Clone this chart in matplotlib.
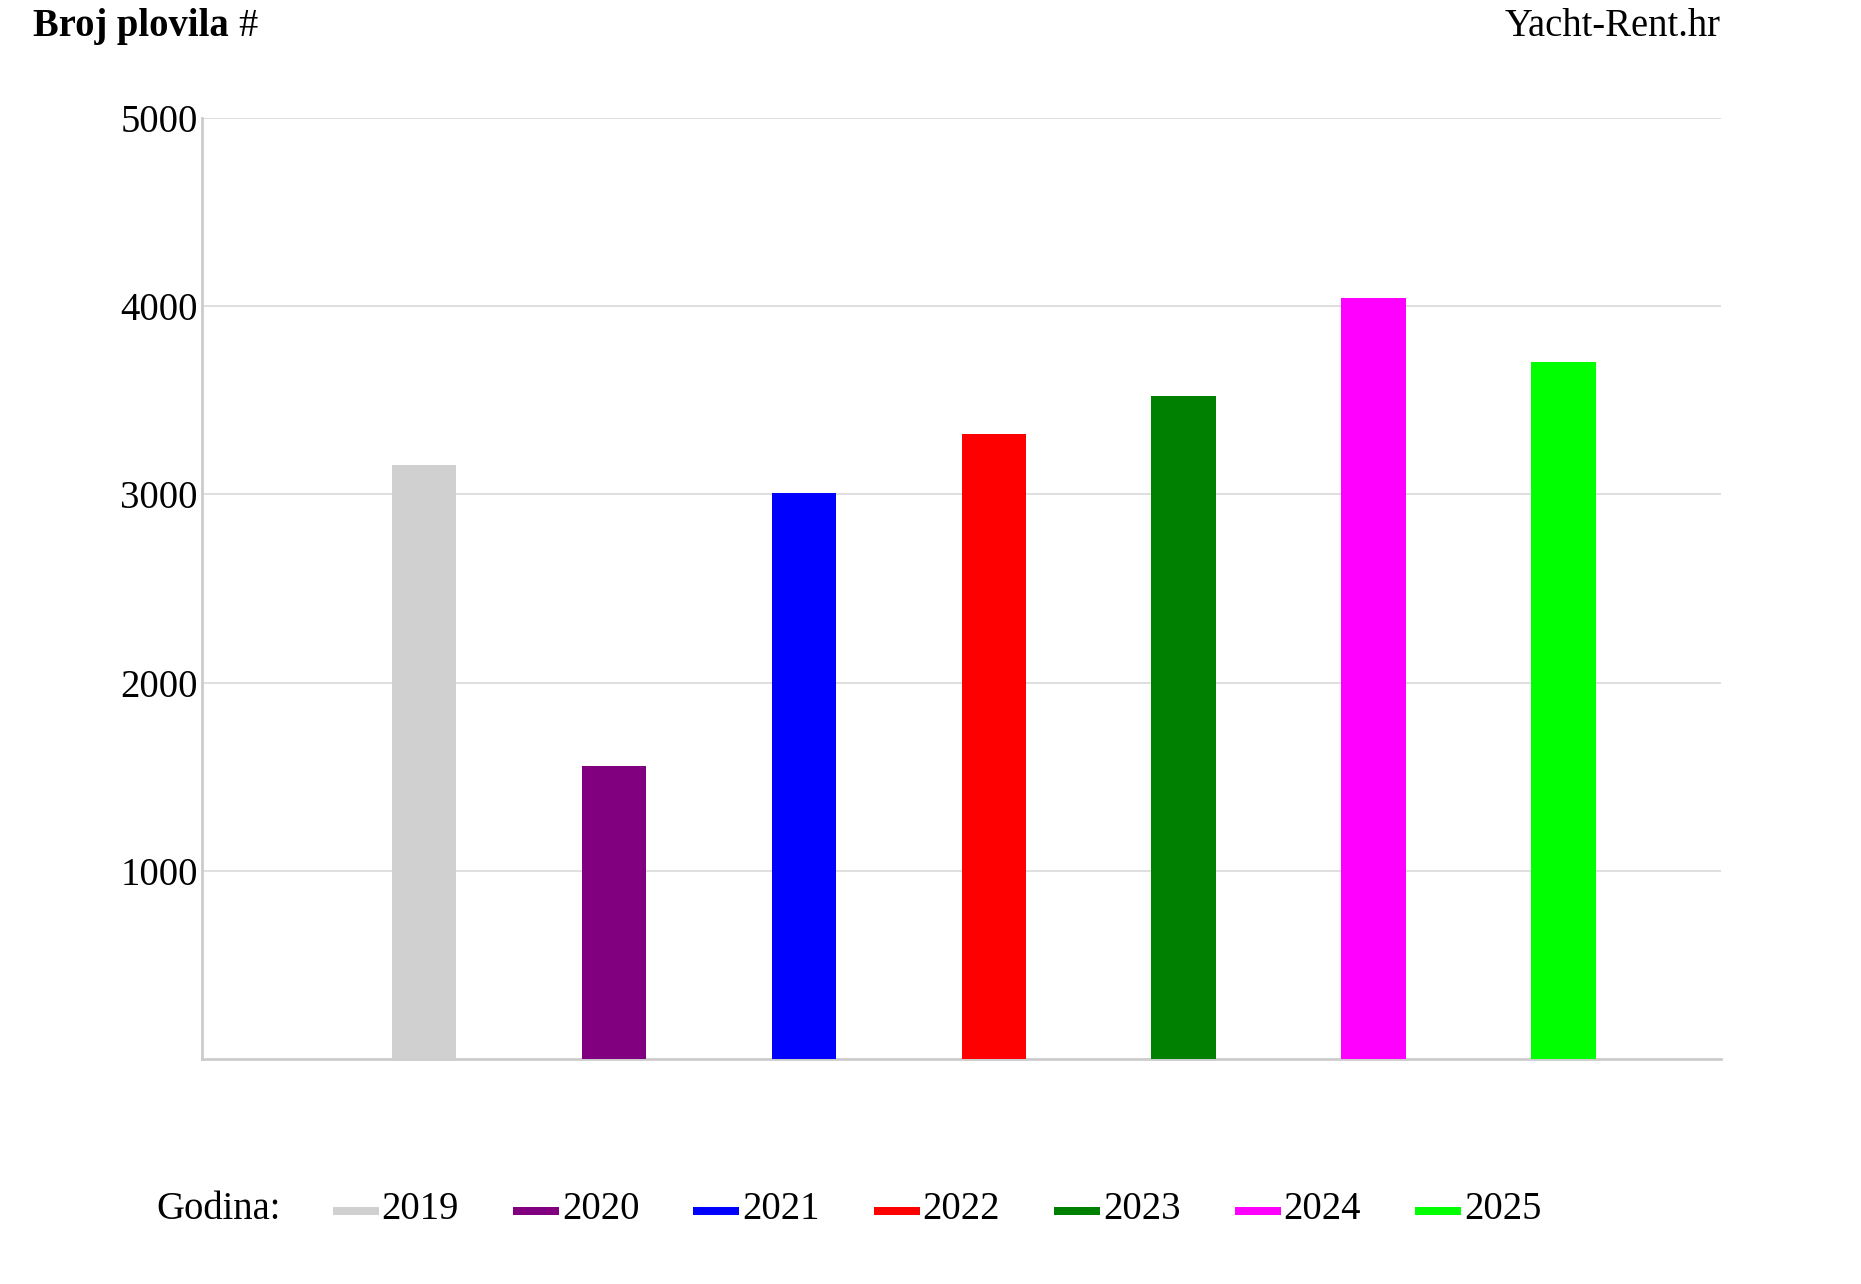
import matplotlib
matplotlib.use("Agg")
import matplotlib.pyplot as plt
from matplotlib.patches import Rectangle

# podaci
years = ["2019", "2020", "2021", "2022", "2023", "2024", "2025"]
vessels = [3156, 1555, 3007, 3321, 3525, 4044, 3704]
colors = ["#d0d0d0", "#800080", "#0000ff", "#ff0000", "#008000", "#ff00ff", "#00ff00"]
yticks = [1000, 2000, 3000, 4000, 5000]

W, H = 1861, 1284
plt.rcParams['font.family'] = ['Liberation Serif', 'DejaVu Serif']
fs = 27.8

fig = plt.figure(figsize=(W / 100, H / 100), dpi=100)
ax = fig.add_axes([202 / W, 1 - 1059 / H, (1721 - 202) / W, (1059 - 118) / H])

positions = list(range(1, len(years) + 1))
ax.bar(positions, vessels, width=0.34, align='edge', color=colors, zorder=3)

ax.set_xlim(0, len(years) + 1)
ax.set_ylim(0, 5000)
ax.set_xticks([])
ax.set_yticks(yticks)
ax.set_yticklabels([str(t) for t in yticks], fontsize=fs)
ax.tick_params(axis='y', length=0, pad=3)
ax.grid(axis='y', color='#dcdcdc', linewidth=1.3, zorder=0)

for side in ['top', 'right']:
    ax.spines[side].set_visible(False)
for side in ['left', 'bottom']:
    ax.spines[side].set_color('#cccccc')
    ax.spines[side].set_linewidth(2)

# naslovi
fig.text(33 / W, 1 - 36 / H, "Broj plovila", fontsize=fs, fontweight='bold', va='baseline')
fig.text(258 / W, 1 - 36 / H, "#", fontsize=fs, va='baseline', ha='right')
fig.text(1721 / W, 1 - 36 / H, "Yacht-Rent.hr", fontsize=fs, va='baseline', ha='right')

# legenda
fig.text(156 / W, 1 - 1219 / H, "Godina:", fontsize=fs, va='baseline')
for i, (yr, c) in enumerate(zip(years, colors)):
    x0 = 332.5 + i * 180.4
    fig.add_artist(Rectangle((x0 / W, 1 - 1215 / H), 46 / W, 8 / H,
                             transform=fig.transFigure, color=c, lw=0))
    fig.text((x0 + 49) / W, 1 - 1219 / H, yr, fontsize=fs, va='baseline')

fig.savefig("out.png", dpi=100, facecolor='white')
